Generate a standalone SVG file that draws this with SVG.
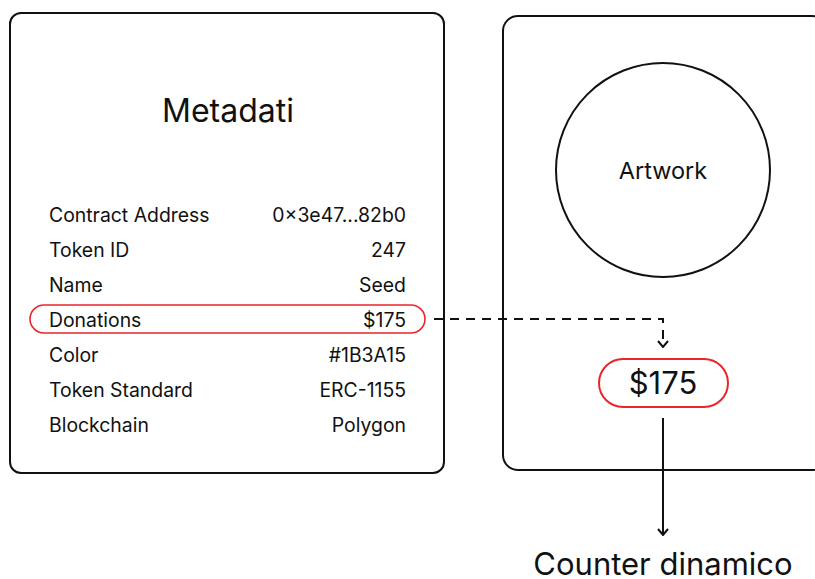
<svg xmlns="http://www.w3.org/2000/svg" width="815" height="579" viewBox="0 0 815 579">
  <style>
    text { font-family: Inter, "Noto Sans", "Liberation Sans", sans-serif; fill: #111; }
    .box { fill: #fff; stroke: #111; stroke-width: 2; }
    .row { font-size: 19.4px; }
    .val { font-size: 19.4px; text-anchor: end; }
    .hl { fill: none; stroke: #e8262b; stroke-width: 1.6; }
    .edge { fill: none; stroke: #111; stroke-width: 2; }
  </style>
  <defs>
    <marker id="chevDown" viewBox="0 0 12 8" refX="6" refY="7" markerWidth="12" markerHeight="8" markerUnits="userSpaceOnUse">
      <path d="M1,1 L6,7 L11,1" fill="none" stroke="#111" stroke-width="2"/>
    </marker>
  </defs>
  <rect width="815" height="579" fill="#fff"/>

  <g id="metadata">
    <rect class="box" x="10" y="13" width="434" height="460" rx="11"/>
    <text x="228" y="122" font-size="32" text-anchor="middle">Metadati</text>
    <rect class="hl" x="30" y="305" width="395" height="28" rx="14"/>
    <text class="row" x="49" y="222">Contract Address</text><text class="val" x="406" y="222">0×3e47...82b0</text>
    <text class="row" x="49" y="257">Token ID</text><text class="val" x="406" y="257">247</text>
    <text class="row" x="49" y="292">Name</text><text class="val" x="406" y="292">Seed</text>
    <text class="row" x="49" y="327">Donations</text><text class="val" x="406" y="327">$175</text>
    <text class="row" x="49" y="362">Color</text><text class="val" x="406" y="362">#1B3A15</text>
    <text class="row" x="49" y="397">Token Standard</text><text class="val" x="406" y="397">ERC-1155</text>
    <text class="row" x="49" y="432">Blockchain</text><text class="val" x="406" y="432">Polygon</text>
  </g>

  <g id="token">
    <rect class="box" x="503" y="16" width="324" height="454" rx="15"/>
  </g>

  <g id="artwork">
    <circle cx="663" cy="170" r="107" fill="#fff" stroke="#111" stroke-width="2"/>
    <text x="663" y="179" font-size="23.5" text-anchor="middle">Artwork</text>
  </g>

  <g id="counter">
    <rect x="599" y="359" width="129" height="48" rx="24" fill="#fff" stroke="#e8262b" stroke-width="2"/>
    <text x="663" y="394" font-size="31" text-anchor="middle">$175</text>
  </g>

  <g id="counter-label">
    <text x="663" y="575" font-size="31" text-anchor="middle">Counter dinamico</text>
  </g>

  <g id="connectors">
    <path class="edge" d="M434,319 H663 V347" stroke-dasharray="9,7" marker-end="url(#chevDown)"/>
    <path class="edge" d="M663,418 V535" marker-end="url(#chevDown)"/>
  </g>
</svg>
